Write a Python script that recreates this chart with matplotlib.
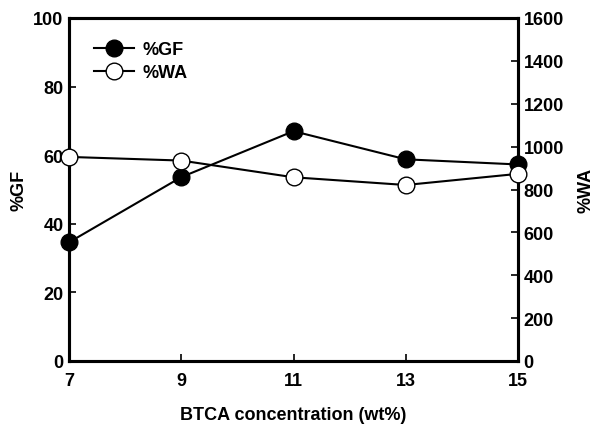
import matplotlib.pyplot as plt

plt.rcParams['font.family'] = ['Liberation Sans', 'DejaVu Sans']
plt.rcParams['font.weight'] = 'bold'

btca = [7, 9, 11, 13, 15]
gf = [34.6, 53.6, 67.0, 58.8, 57.3]
wa = [952, 935, 857, 821, 873]

fig = plt.figure(figsize=(5.98, 4.27), dpi=100)
ax = fig.add_axes([69 / 598, 65 / 427, 449 / 598, 343 / 427])
ax2 = ax.twinx()

l1, = ax.plot(btca, gf, color='black', lw=1.5, marker='o', ms=12,
              mfc='black', mec='black', mew=1, label='%GF', zorder=3, clip_on=False)
l2, = ax2.plot(btca, wa, color='black', lw=1.5, marker='o', ms=12,
               mfc='white', mec='black', mew=1, label='%WA', zorder=3, clip_on=False)

ax.set_xlim(7, 15)
ax.set_ylim(0, 100)
ax2.set_ylim(0, 1600)
ax.set_xticks(btca)
ax.set_yticks(range(0, 101, 20))
ax2.set_yticks(range(0, 1601, 200))

for a in (ax, ax2):
    for s in a.spines.values():
        s.set_linewidth(2.2)
    a.tick_params(direction='in', length=5, width=1.2, labelsize=13, pad=4)
ax.tick_params(axis='x', pad=8)

ax.set_xlabel('BTCA concentration (wt%)', fontsize=13, fontweight='bold', labelpad=12)
ax.set_ylabel('%GF', fontsize=13, fontweight='bold', labelpad=4)
ax2.set_ylabel('%WA', fontsize=13, fontweight='bold', labelpad=10)

ax.legend([l1, l2], ['%GF', '%WA'], loc='upper left', frameon=False,
          bbox_to_anchor=(0.02, 0.98), fontsize=13, handlelength=2.2,
          handletextpad=0.5, labelspacing=0.35)

fig.savefig('out.png', dpi=100)
